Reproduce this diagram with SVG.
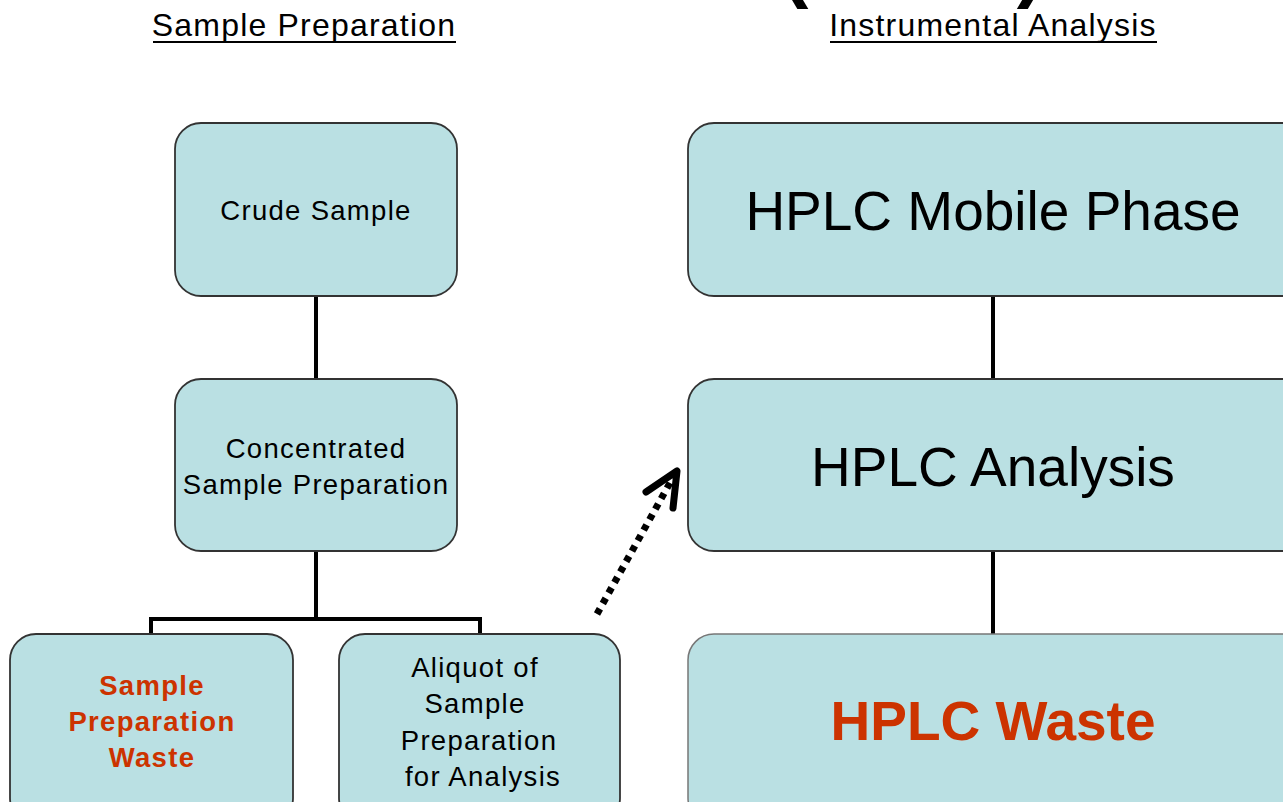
<svg xmlns="http://www.w3.org/2000/svg" width="1283" height="802" viewBox="0 0 1283 802">
<style>
.box{fill:#BAE0E3;stroke:#333;stroke-width:1.8}
.t{font-family:"Liberation Sans",Arial,sans-serif;fill:#000;text-anchor:middle}
.s{font-size:27.5px;letter-spacing:1.3px}
.b{font-size:55px}
.red{fill:#CC3300;font-weight:bold}
.c{stroke:#000;stroke-width:4;fill:none}
</style>
<rect width="1283" height="802" fill="#fff"/>
<g id="title-fragment">
<text x="795" y="-8" class="t" font-size="80" font-weight="bold">(</text>
<text x="1030" y="-8" class="t" font-size="80" font-weight="bold">)</text>
</g>
<g id="heading-left">
<text x="304" y="36" class="t" font-size="32" letter-spacing="1.2">Sample Preparation</text>
<line x1="153" y1="42" x2="456" y2="42" stroke="#000" stroke-width="2"/>
</g>
<g id="heading-right">
<text x="993" y="36" class="t" font-size="32" letter-spacing="1.2">Instrumental Analysis</text>
<line x1="830" y1="42" x2="1157" y2="42" stroke="#000" stroke-width="2"/>
</g>
<g id="connectors">
<line class="c" x1="316" y1="296" x2="316" y2="379"/>
<line class="c" x1="316" y1="551" x2="316" y2="619"/>
<polyline class="c" points="151,634 151,619 480,619 480,634"/>
<line class="c" x1="993" y1="296" x2="993" y2="379"/>
<line class="c" x1="993" y1="551" x2="993" y2="634"/>
<line x1="597" y1="614" x2="671" y2="481" stroke="#000" stroke-width="7" stroke-dasharray="6 6"/>
<polyline points="646,492 677,471 673,508" fill="none" stroke="#000" stroke-width="7" stroke-linejoin="round" stroke-linecap="round"/>
</g>
<g id="crude-sample">
<rect class="box" x="175" y="123" width="282" height="173" rx="26"/>
<text x="316" y="220" class="t s">Crude Sample</text>
</g>
<g id="concentrated">
<rect class="box" x="175" y="379" width="282" height="172" rx="26"/>
<text x="316" y="458" class="t s">Concentrated</text>
<text x="316" y="494" class="t s">Sample Preparation</text>
</g>
<g id="prep-waste">
<rect class="box" x="10" y="634" width="283" height="190" rx="26"/>
<text x="152" y="695" class="t s red">Sample</text>
<text x="152" y="731" class="t s red">Preparation</text>
<text x="152" y="767" class="t s red">Waste</text>
</g>
<g id="aliquot">
<rect class="box" x="339" y="634" width="281" height="190" rx="26"/>
<text x="475" y="677" class="t s">Aliquot of</text>
<text x="475" y="713" class="t s">Sample</text>
<text x="479" y="750" class="t s">Preparation</text>
<text x="483" y="786" class="t s">for Analysis</text>
</g>
<g id="mobile-phase">
<rect class="box" x="688" y="123" width="640" height="173" rx="26"/>
<text x="993" y="230" class="t b">HPLC Mobile Phase</text>
</g>
<g id="analysis">
<rect class="box" x="688" y="379" width="640" height="172" rx="26"/>
<text x="993" y="486" class="t b">HPLC Analysis</text>
</g>
<g id="hplc-waste">
<rect class="box" x="688" y="634" width="640" height="190" rx="26" style="stroke:#777;stroke-width:1.5"/>
<text x="993" y="740" class="t b red">HPLC Waste</text>
</g>
</svg>
